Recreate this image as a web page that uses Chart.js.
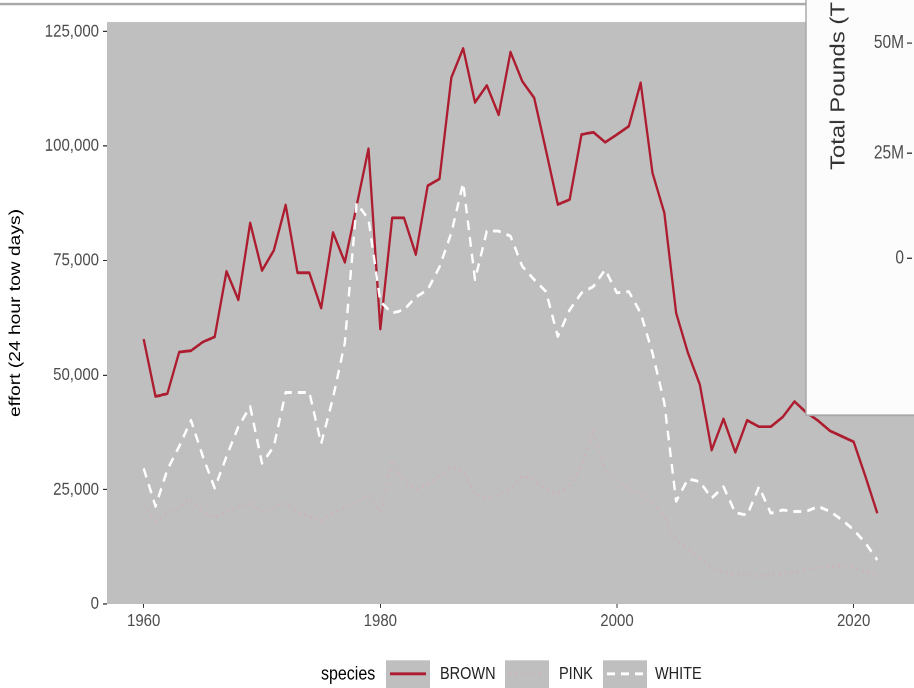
<!DOCTYPE html>
<html>
<head>
<meta charset="utf-8">
<script src="https://cdn.jsdelivr.net/npm/chart.js@4.4.1/dist/chart.umd.min.js"></script>
<style>
  html, body { margin: 0; padding: 0; background: #fff; }
  #wrap { position: relative; width: 914px; height: 688px; overflow: hidden; }
  /* the source picture is stretched vertically, so the canvas is drawn at 573px high and shown at 688px */
  #chart { display: block; width: 914px; height: 688px; }
</style>
</head>
<body>
<div id="wrap"><canvas id="chart" width="914" height="573" style="width:914px;height:688px"></canvas></div>
<script>
var years = [1960,1961,1962,1963,1964,1965,1966,1967,1968,1969,
             1970,1971,1972,1973,1974,1975,1976,1977,1978,1979,
             1980,1981,1982,1983,1984,1985,1986,1987,1988,1989,
             1990,1991,1992,1993,1994,1995,1996,1997,1998,1999,
             2000,2001,2002,2003,2004,2005,2006,2007,2008,2009,
             2010,2011,2012,2013,2014,2015,2016,2017,2018,2019,
             2020,2021,2022];

var brown = [57800,45300,45900,55000,55300,57200,58300,72600,66400,83200,
             72800,77200,87100,72300,72300,64600,81100,74600,87000,99400,
             60000,84300,84300,76300,91300,92800,114900,121300,109500,113200,
             106800,120500,114100,110500,99000,87200,88300,102500,103000,100800,
             102500,104300,113800,94100,85400,63500,54800,47900,33600,40400,
             33100,40100,38700,38700,40800,44200,41800,40000,37800,36600,
             35400,27800,19800];

var pink = [22000,18000,20000,21000,23000,20000,19000,20000,21000,22000,
            20000,21000,22000,20000,19000,18000,20000,21000,22000,24000,
            20000,31000,27000,25000,26000,28000,30000,29000,24000,23000,
            24000,25000,28000,27000,25000,24000,26000,30000,38000,29000,
            27000,25000,24000,22000,19000,14000,12000,10000,8000,7000,
            6500,6500,6000,6500,6500,7000,7500,8000,8000,8500,
            8000,7000,6500];

var white = [29600,21300,29300,34400,40100,32200,25300,32200,38700,43100,
             30700,34400,46200,46200,46200,35000,45000,57000,87500,84000,
             66000,63500,64200,67000,68600,73600,81000,91900,70800,81400,
             81400,80300,73700,70800,68200,58400,64200,67900,69300,73000,
             67900,68200,63500,54800,43900,22400,27300,26700,23100,25600,
             19900,19400,25600,19800,20500,20200,20200,21300,20200,18400,
             16200,13300,9600];

var xTicks = [1960, 1980, 2000, 2020];
var yTicks = [0, 25000, 50000, 75000, 100000, 125000];
var overlayTicks = ['50M', '25M', '0'];

var panelGrey = '#bfbfbf';
var fontFam = "'Liberation Sans', Arial, sans-serif";
var sy = 1 / 1.2; // page px -> canvas px, vertically

function pts(arr) {
  return years.map(function(yr, i) { return {x: yr, y: arr[i]}; });
}

// grey panel behind the lines
var panelBg = {
  id: 'panelBg',
  beforeDatasetsDraw: function(chart) {
    var a = chart.chartArea, c = chart.ctx;
    c.save();
    c.fillStyle = panelGrey;
    c.fillRect(a.left, a.top, a.right - a.left, a.bottom - a.top);
    c.restore();
  }
};

// legend row + the pasted-over box in the top right corner
var extras = {
  id: 'extras',
  afterDraw: function(chart) {
    var c = chart.ctx;
    var sets = chart.data.datasets;
    c.save();

    // frame line on top
    c.strokeStyle = '#a9a9a9';
    c.lineWidth = 2;
    c.beginPath(); c.moveTo(0, 4 * sy); c.lineTo(806, 4 * sy); c.stroke();

    // white box
    var boxBottom = 415 * sy;
    c.fillStyle = '#fcfcfc';
    c.fillRect(806, 0, 108, boxBottom);
    c.lineWidth = 1.5;
    c.beginPath(); c.moveTo(806, 0); c.lineTo(806, boxBottom); c.lineTo(914, boxBottom); c.stroke();

    c.save();
    c.fillStyle = '#333';
    c.font = '20px ' + fontFam;
    c.translate(839, 170 * sy);
    c.rotate(-Math.PI / 2);
    c.textAlign = 'left';
    c.textBaseline = 'middle';
    c.fillText('Total Pounds (T', 0, 0);
    c.restore();

    var oy = [43, 153, 258];
    c.font = '15.5px ' + fontFam;
    c.fillStyle = '#4d4d4d';
    c.textAlign = 'right';
    c.textBaseline = 'middle';
    c.strokeStyle = '#333';
    c.lineWidth = 1;
    overlayTicks.forEach(function(t, i) {
      c.fillText(t, 904, oy[i] * sy);
      c.beginPath(); c.moveTo(907, oy[i] * sy); c.lineTo(912, oy[i] * sy); c.stroke();
    });

    // legend
    var ly = 674 * sy;
    c.textAlign = 'left';
    c.fillStyle = '#000';
    c.font = '16px ' + fontFam;
    c.fillText('species', 321, ly);
    var keys = [
      {label: 'BROWN', x: 386, tx: 440},
      {label: 'PINK', x: 505, tx: 559},
      {label: 'WHITE', x: 603, tx: 655}
    ];
    c.font = '14.5px ' + fontFam;
    keys.forEach(function(k) {
      var ds = sets.filter(function(d) { return d.label === k.label; })[0];
      c.fillStyle = panelGrey;
      c.fillRect(k.x, 660 * sy, 44, 28 * sy);
      c.strokeStyle = ds.borderColor;
      c.lineWidth = ds.borderWidth;
      c.setLineDash(ds.borderDash || []);
      c.beginPath(); c.moveTo(k.x + 4, ly - 0.5); c.lineTo(k.x + 40, ly - 0.5); c.stroke();
      c.setLineDash([]);
      c.fillStyle = '#222';
      c.fillText(k.label, k.tx, ly);
    });
    c.restore();
  }
};

var ctx = document.getElementById('chart');
var myChart = new Chart(ctx, {
  type: 'line',
  data: {
    datasets: [
      { label: 'WHITE', data: pts(white), borderColor: '#ffffff', borderWidth: 2.4, borderDash: [8, 6] },
      { label: 'PINK', data: pts(pink), borderColor: 'rgba(216,172,184,0.5)', borderWidth: 2, borderDash: [2, 4] },
      { label: 'BROWN', data: pts(brown), borderColor: '#ad1c2f', borderWidth: 2.3 }
    ]
  },
  options: {
    responsive: false,
    devicePixelRatio: 2,
    animation: false,
    events: [],
    elements: { point: { radius: 0 }, line: { tension: 0, borderJoinStyle: 'round' } },
    layout: { padding: { top: 22 * sy, left: 0, right: 0, bottom: 0 } },
    plugins: { legend: { display: false }, tooltip: { enabled: false } },
    scales: {
      x: {
        type: 'linear',
        min: 1956.9,
        max: 2025.1,
        afterBuildTicks: function(s) { s.ticks = xTicks.map(function(v) { return {value: v}; }); },
        afterFit: function(s) { s.height = 84 * sy; },
        border: { display: false },
        grid: { drawOnChartArea: false, drawTicks: true, tickLength: 4 * sy, tickColor: '#333' },
        ticks: { color: '#4d4d4d', font: { size: 15, family: fontFam }, padding: 2, maxRotation: 0,
                 callback: function(v) { return String(v); } }
      },
      y: {
        min: 0,
        max: 127050,
        afterBuildTicks: function(s) { s.ticks = yTicks.map(function(v) { return {value: v}; }); },
        afterFit: function(s) { s.width = 107; },
        border: { display: false },
        grid: { drawOnChartArea: false, drawTicks: true, tickLength: 4, tickColor: '#333' },
        ticks: { color: '#4d4d4d', font: { size: 15, family: fontFam }, padding: 4,
                 callback: function(v) { return v.toLocaleString('en-US'); } },
        title: { display: true, text: 'effort (24 hour tow days)', color: '#000',
                 font: { size: 16, family: fontFam }, padding: { top: 6, bottom: 0 } }
      }
    }
  },
  plugins: [panelBg, extras]
});
</script>
</body>
</html>
